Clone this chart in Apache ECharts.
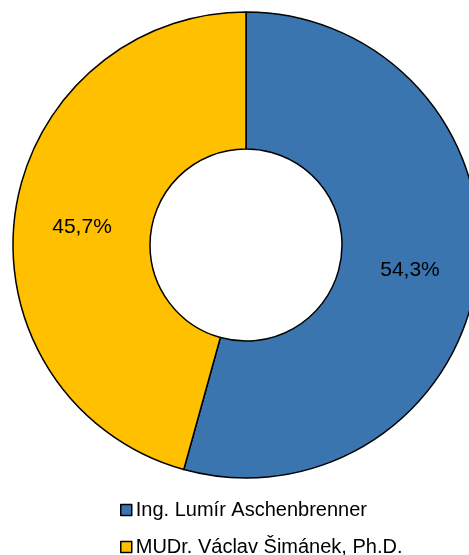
<!DOCTYPE html>
<html>
<head>
<meta charset="utf-8">
<script src="https://cdn.jsdelivr.net/npm/echarts@6/dist/echarts.min.js"></script>
<style>
  html, body { margin: 0; padding: 0; background: #fff; }
  #chart { width: 469px; height: 555px; }
</style>
</head>
<body>
<div id="chart"></div>
<script>
// Candidates and their share of the vote (percent)
const candidates = ['Ing. Lumír Aschenbrenner', 'MUDr. Václav Šimánek, Ph.D.'];
const shares = [54.3, 45.7];
const colors = ['#3b75af', '#ffc000'];
const labelOffsets = [[-2, 3], [2, 5]];

const chart = echarts.init(document.getElementById('chart'), null, { renderer: 'canvas' });

chart.setOption({
  animation: false,
  backgroundColor: '#ffffff',
  legend: {
    orient: 'vertical',
    left: 120,
    top: 500,
    height: 120,
    padding: 0,
    itemWidth: 11,
    itemHeight: 11,
    itemGap: 17,
    icon: 'rect',
    itemStyle: { borderColor: '#000', borderWidth: 1.5 },
    textStyle: {
      fontFamily: 'Liberation Sans, Arial, sans-serif',
      fontSize: 20,
      lineHeight: 20,
      color: '#000',
      padding: [0, 0, 0, -1]
    },
    data: candidates
  },
  series: [{
    type: 'pie',
    center: [246, 245],
    radius: [96, 233],
    startAngle: 90,
    clockwise: true,
    silent: true,
    itemStyle: { borderColor: '#000', borderWidth: 1.5 },
    label: {
      show: true,
      position: 'inside',
      fontFamily: 'Liberation Sans, Arial, sans-serif',
      fontSize: 21,
      color: '#000',
      formatter: p => p.value.toFixed(1).replace('.', ',') + '%'
    },
    labelLine: { show: false },
    data: candidates.map((name, i) => ({
      name: name,
      value: shares[i],
      itemStyle: { color: colors[i] },
      label: { offset: labelOffsets[i] }
    }))
  }]
});
</script>
</body>
</html>
